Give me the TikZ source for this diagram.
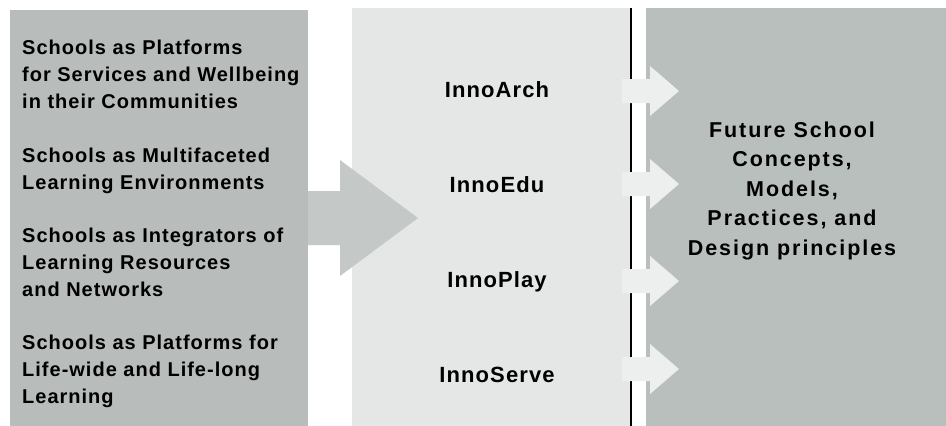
\documentclass[tikz,border=0pt]{standalone}
\usepackage{fontspec}
\setmainfont{Liberation Sans}
\newfontfamily\panelfont[LetterSpace=5]{Liberation Sans}
\newfontfamily\widefont[LetterSpace=9]{Liberation Sans}
\definecolor{leftgray}{RGB}{184,188,186}
\definecolor{midgray}{RGB}{228,231,230}
\definecolor{rightgray}{RGB}{184,191,188}
\definecolor{biggray}{RGB}{196,200,198}
\definecolor{smallgray}{RGB}{236,239,238}
\begin{document}
\begin{tikzpicture}[x=1pt,y=-1pt,
    lefttext/.style={anchor=base west,align=left,inner sep=0pt,
      font=\panelfont\bfseries\fontsize{20}{27}\selectfont},
    midtext/.style={anchor=base,inner sep=0pt,
      font=\panelfont\bfseries\fontsize{22}{25}\selectfont},
    righttext/.style={anchor=base,align=center,inner sep=0pt,
      font=\widefont\bfseries\fontsize{21.5}{29.5}\selectfont}]
  \useasboundingbox (0,0) rectangle (946,426);

  % panels
  \fill[leftgray] (10,10) rectangle (308,426);
  \fill[midgray] (352,8) rectangle (631,426);
  \fill[rightgray] (646,8) rectangle (946,426);
  \draw[line width=1.2pt] (631,8) -- (631,426);

  % arrows
  \fill[biggray] (308,191) -- (340,191) -- (340,160) -- (418,218)
    -- (340,276) -- (340,245) -- (308,245) -- cycle;
  \foreach \cy in {91,184,281,369}
    \fill[smallgray] (622,\cy-12) -- (650,\cy-12) -- (650,\cy-25) -- (679,\cy)
      -- (650,\cy+25) -- (650,\cy+12) -- (622,\cy+12) -- cycle;

  % base is the last line
  \node[lefttext] (platforms) at (22,108)
    {Schools as Platforms\\for Services and Wellbeing\\in their Communities};
  \node[lefttext] (multifaceted) at (22,189)
    {Schools as Multifaceted\\Learning Environments};
  \node[lefttext] (integrators) at (22,296)
    {Schools as Integrators of\\Learning Resources\\and Networks};
  \node[lefttext] (lifelong) at (22,403)
    {Schools as Platforms for\\Life-wide and Life-long\\Learning};

  \node[midtext] (arch) at (497,97) {InnoArch};
  \node[midtext] (edu) at (497,192) {InnoEdu};
  \node[midtext] (play) at (497,287) {InnoPlay};
  \node[midtext] (serve) at (497,382) {InnoServe};

  \node[righttext] (future) at (792,255)
    {Future School\\Concepts,\\Models,\\Practices, and\\Design principles};
\end{tikzpicture}
\end{document}
